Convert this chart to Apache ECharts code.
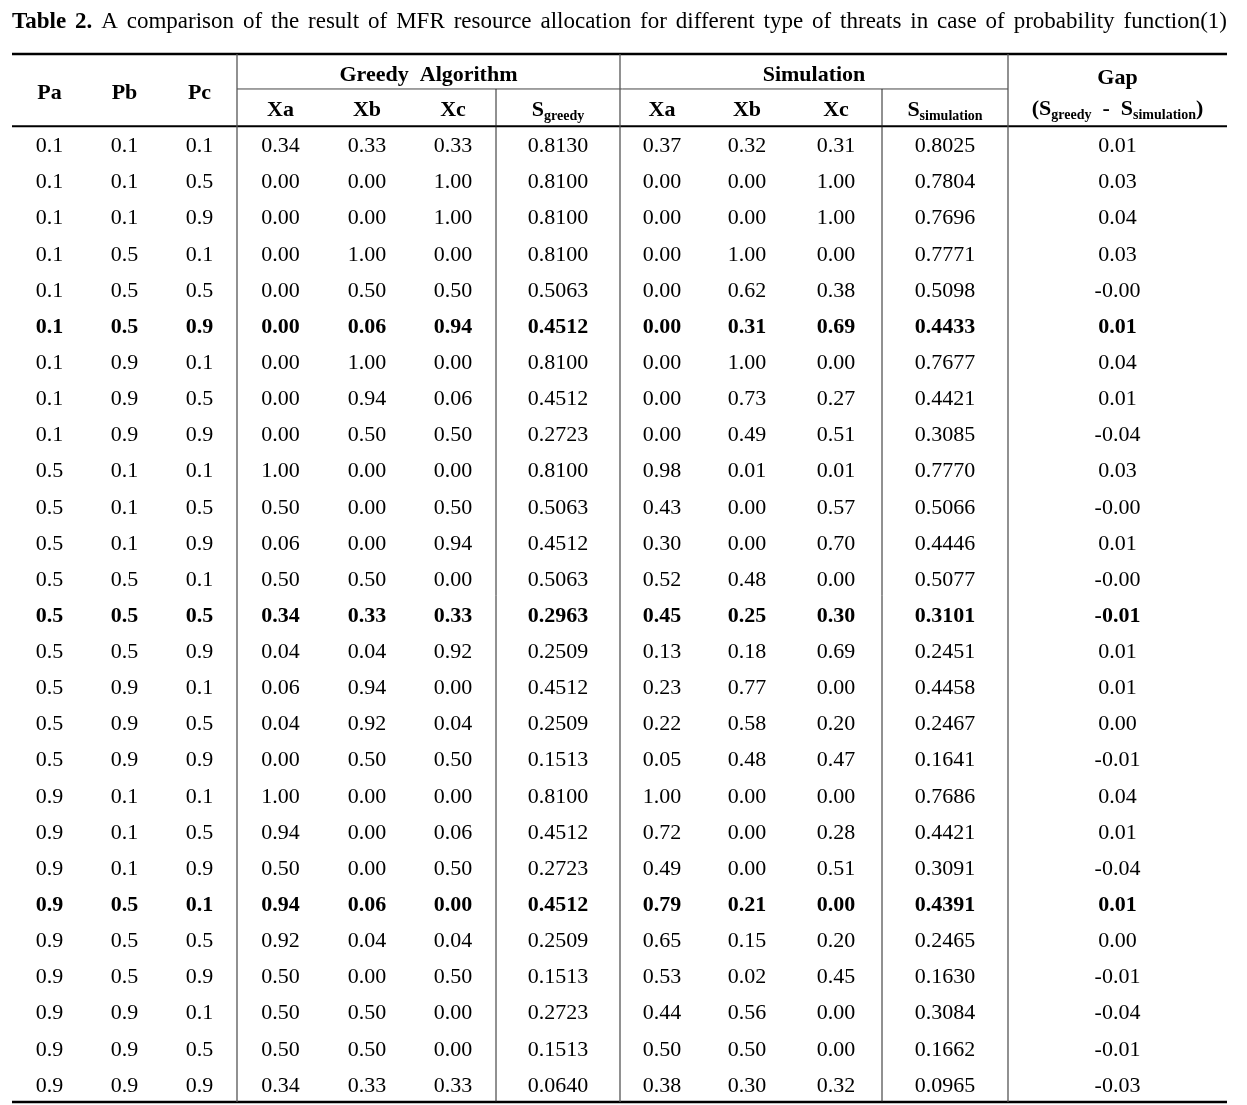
<!DOCTYPE html>
<html><head><meta charset="utf-8">
<script src="https://cdn.jsdelivr.net/npm/echarts@6/dist/echarts.min.js"></script>
<style>html,body{margin:0;padding:0;background:#fff}#c{width:1247px;height:1105px}</style>
</head><body><div id="c"></div>
<script>
const pa = [0.1,0.1,0.1,0.1,0.1,0.1,0.1,0.1,0.1,0.5,0.5,0.5,0.5,0.5,0.5,0.5,0.5,0.5,0.9,0.9,0.9,0.9,0.9,0.9,0.9,0.9,0.9];
const pb = [0.1,0.1,0.1,0.5,0.5,0.5,0.9,0.9,0.9,0.1,0.1,0.1,0.5,0.5,0.5,0.9,0.9,0.9,0.1,0.1,0.1,0.5,0.5,0.5,0.9,0.9,0.9];
const pc = [0.1,0.5,0.9,0.1,0.5,0.9,0.1,0.5,0.9,0.1,0.5,0.9,0.1,0.5,0.9,0.1,0.5,0.9,0.1,0.5,0.9,0.1,0.5,0.9,0.1,0.5,0.9];
const greedyXa = [0.34,0.00,0.00,0.00,0.00,0.00,0.00,0.00,0.00,1.00,0.50,0.06,0.50,0.34,0.04,0.06,0.04,0.00,1.00,0.94,0.50,0.94,0.92,0.50,0.50,0.50,0.34];
const greedyXb = [0.33,0.00,0.00,1.00,0.50,0.06,1.00,0.94,0.50,0.00,0.00,0.00,0.50,0.33,0.04,0.94,0.92,0.50,0.00,0.00,0.00,0.06,0.04,0.00,0.50,0.50,0.33];
const greedyXc = [0.33,1.00,1.00,0.00,0.50,0.94,0.00,0.06,0.50,0.00,0.50,0.94,0.00,0.33,0.92,0.00,0.04,0.50,0.00,0.06,0.50,0.00,0.04,0.50,0.00,0.00,0.33];
const sGreedy  = [0.8130,0.8100,0.8100,0.8100,0.5063,0.4512,0.8100,0.4512,0.2723,0.8100,0.5063,0.4512,0.5063,0.2963,0.2509,0.4512,0.2509,0.1513,0.8100,0.4512,0.2723,0.4512,0.2509,0.1513,0.2723,0.1513,0.0640];
const simXa = [0.37,0.00,0.00,0.00,0.00,0.00,0.00,0.00,0.00,0.98,0.43,0.30,0.52,0.45,0.13,0.23,0.22,0.05,1.00,0.72,0.49,0.79,0.65,0.53,0.44,0.50,0.38];
const simXb = [0.32,0.00,0.00,1.00,0.62,0.31,1.00,0.73,0.49,0.01,0.00,0.00,0.48,0.25,0.18,0.77,0.58,0.48,0.00,0.00,0.00,0.21,0.15,0.02,0.56,0.50,0.30];
const simXc = [0.31,1.00,1.00,0.00,0.38,0.69,0.00,0.27,0.51,0.01,0.57,0.70,0.00,0.30,0.69,0.00,0.20,0.47,0.00,0.28,0.51,0.00,0.20,0.45,0.00,0.00,0.32];
const sSimulation = [0.8025,0.7804,0.7696,0.7771,0.5098,0.4433,0.7677,0.4421,0.3085,0.7770,0.5066,0.4446,0.5077,0.3101,0.2451,0.4458,0.2467,0.1641,0.7686,0.4421,0.3091,0.4391,0.2465,0.1630,0.3084,0.1662,0.0965];
const gap = ['0.01','0.03','0.04','0.03','-0.00','0.01','0.04','0.01','-0.04','0.03','-0.00','0.01','-0.00','-0.01','0.01','0.01','0.00','-0.01','0.04','0.01','-0.04','0.01','0.00','-0.01','-0.04','-0.01','-0.03'];
const boldRows = [5, 13, 21];
const titleWords = ['Table','2.','A','comparison','of','the','result','of','MFR','resource','allocation','for','different','type','of','threats','in','case','of','probability','function(1)'];
const titleBoldWords = 2;

// ---------- layout ----------
const FONT = '"Liberation Serif", "Times New Roman", serif';
const colW = [75,75,75,87,86,86,124,84,86,92,126,219];
const bounds = [0];
colW.forEach(w => bounds.push(bounds[bounds.length - 1] + w));
const TOTAL_W = bounds[bounds.length - 1];
const center = i => (bounds[i] + bounds[i + 1]) / 2;
const nRows = pa.length;
const HEADER = 2;
const hMid = 0.968;
const TOTAL_H = HEADER + nRows;
const TEXT_DY = 2;    // px: optical centring of glyphs

const columns = [
  {d: pa, f: v => v.toFixed(1)}, {d: pb, f: v => v.toFixed(1)}, {d: pc, f: v => v.toFixed(1)},
  {d: greedyXa, f: v => v.toFixed(2)}, {d: greedyXb, f: v => v.toFixed(2)}, {d: greedyXc, f: v => v.toFixed(2)},
  {d: sGreedy, f: v => v.toFixed(4)},
  {d: simXa, f: v => v.toFixed(2)}, {d: simXb, f: v => v.toFixed(2)}, {d: simXc, f: v => v.toFixed(2)},
  {d: sSimulation, f: v => v.toFixed(4)},
  {d: gap, f: v => v}
];

const cells = [];
for (let r = 0; r < nRows; r++) {
  const bold = boldRows.indexOf(r) >= 0;
  columns.forEach((col, c) => {
    cells.push({x: center(c), y: HEADER + r + 0.5, text: col.f(col.d[r]), bold: bold});
  });
}
const subRich = {
  m: {fontFamily: FONT, fontSize: 22, fontWeight: 'bold', color: '#000', lineHeight: 26},
  s: {fontFamily: FONT, fontSize: 14, fontWeight: 'bold', color: '#000', lineHeight: 26, verticalAlign: 'bottom'}
};
// header cells
['Pa','Pb','Pc'].forEach((t, c) => cells.push({x: center(c), y: 1.03, text: t, bold: true}));
cells.push({x: (bounds[3] + bounds[7]) / 2, y: hMid / 2 + 0.05, text: 'Greedy  Algorithm', bold: true});
cells.push({x: (bounds[7] + bounds[11]) / 2, y: hMid / 2 + 0.05, text: 'Simulation', bold: true});
[3,4,5].forEach((c, k) => cells.push({x: center(c), y: (hMid + 2) / 2 + 0.03, text: ['Xa','Xb','Xc'][k], bold: true}));
[7,8,9].forEach((c, k) => cells.push({x: center(c), y: (hMid + 2) / 2 + 0.03, text: ['Xa','Xb','Xc'][k], bold: true}));
cells.push({x: center(6), y: (hMid + 2) / 2 + 0.03, text: '{m|S}{s|greedy}', bold: true, rich: subRich});
cells.push({x: center(10), y: (hMid + 2) / 2 + 0.03, text: '{m|S}{s|simulation}', bold: true, rich: subRich});
cells.push({x: center(11), y: 0.62, text: 'Gap', bold: true});
cells.push({x: center(11), y: 1.48, text: '{m|(S}{s|greedy}{m|  -  S}{s|simulation}{m|)}', bold: true, rich: subRich});

// table rules
const ruleStyles = [
  {c: '#000', w: 2.5},  // 0 thick
  {c: '#000', w: 2},    // 1 header bottom
  {c: '#444', w: 1},    // 2 thin horizontal
  {c: '#555', w: 1.3},  // 3 group verticals
  {c: '#222', w: 1}     // 4 sub verticals
];
const rules = [
  [0, 0, TOTAL_W, 0, 0],
  [bounds[3], hMid, bounds[11], hMid, 2],
  [0, HEADER, TOTAL_W, HEADER, 1],
  [0, TOTAL_H, TOTAL_W, TOTAL_H, 0],
  [bounds[3], 0, bounds[3], TOTAL_H, 3],
  [bounds[7], 0, bounds[7], TOTAL_H, 3],
  [bounds[11], 0, bounds[11], TOTAL_H, 3],
  [bounds[6], hMid, bounds[6], TOTAL_H, 4],
  [bounds[10], hMid, bounds[10], TOTAL_H, 4]
];

// title justification
const ctx = document.createElement('canvas').getContext('2d');
let sumW = 0;
titleWords.forEach((w, i) => {
  ctx.font = (i < titleBoldWords ? 'bold ' : '') + '23px ' + FONT;
  sumW += ctx.measureText(w).width;
});
const gapW = Math.max(4, (TOTAL_W - sumW) / (titleWords.length - 1));
const titleText = titleWords.map((w, i) => (i > 0 ? '{g| }' : '') + (i < titleBoldWords ? '{b|' : '{n|') + w + '}').join('');

const chart = echarts.init(document.getElementById('c'), null, {renderer: 'canvas'});
chart.setOption({
  animation: false,
  backgroundColor: '#fff',
  title: {
    left: 12, top: 7, padding: 0,
    text: titleText,
    textStyle: {
      fontFamily: FONT, fontSize: 23, color: '#000', fontWeight: 'normal',
      rich: {
        b: {fontFamily: FONT, fontSize: 23, fontWeight: 'bold', color: '#000', lineHeight: 30},
        n: {fontFamily: FONT, fontSize: 23, fontWeight: 'normal', color: '#000', lineHeight: 30},
        g: {fontFamily: FONT, fontSize: 23, width: gapW, lineHeight: 30}
      }
    }
  },
  grid: {left: 12, top: 54, width: TOTAL_W, height: 1048, containLabel: false},
  xAxis: {type: 'value', min: 0, max: TOTAL_W, show: false},
  yAxis: {type: 'value', min: 0, max: TOTAL_H, inverse: true, show: false},
  series: [
    {
      type: 'custom', silent: true, z: 1,
      data: rules,
      renderItem: (params, api) => {
        const p1 = api.coord([api.value(0), api.value(1)]);
        const p2 = api.coord([api.value(2), api.value(3)]);
        const st = ruleStyles[api.value(4)];
        return {type: 'line', shape: {x1: p1[0], y1: p1[1], x2: p2[0], y2: p2[1]},
                style: {stroke: st.c, lineWidth: st.w}};
      }
    },
    {
      type: 'custom', silent: true, z: 2,
      data: cells.map(c => [c.x, c.y]),
      renderItem: (params, api) => {
        const cell = cells[params.dataIndex];
        const p = api.coord([api.value(0), api.value(1)]);
        const style = {
          text: cell.text, fill: '#000', fontFamily: FONT, fontSize: 22,
          fontWeight: cell.bold ? 'bold' : 'normal', align: 'center', verticalAlign: 'middle'
        };
        if (cell.rich) style.rich = cell.rich;
        return {type: 'text', x: p[0], y: p[1] + TEXT_DY, style: style};
      }
    }
  ]
});
</script></body></html>
